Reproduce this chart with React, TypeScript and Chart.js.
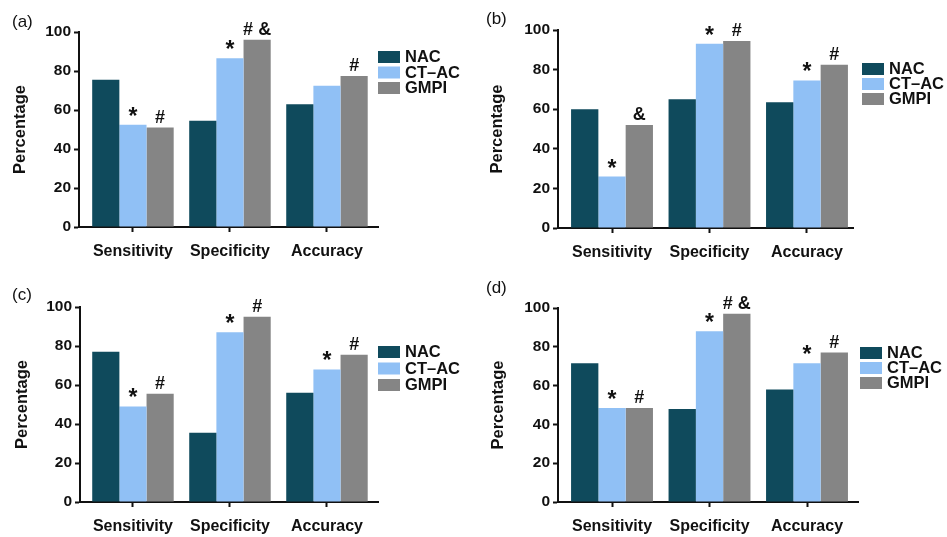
import React, { useEffect, useRef } from 'react';
import { Chart, registerables } from 'chart.js';

Chart.register(...registerables);
Chart.defaults.font.family = '"Liberation Sans", Arial, sans-serif';

// ---------- data ----------
const categories = ['Sensitivity', 'Specificity', 'Accuracy'];
const seriesNames = ['NAC', 'CT–AC', 'GMPI'];
const seriesColors = ['#0f4a5c', '#90c0f5', '#858585'];
const yTickStep = 20;
const yMin = 0;
const yMax = 100;
const yTitle = 'Percentage';
const panelLabels = ['(a)', '(b)', '(c)', '(d)'];

const nacA = [75.5, 54.5, 63];
const ctacA = [52.5, 86.5, 72.5];
const gmpiA = [51, 96, 77.5];

const nacB = [60, 65, 63.5];
const ctacB = [26, 93, 74.5];
const gmpiB = [52, 94.5, 82.5];

const nacC = [77, 35.5, 56];
const ctacC = [49, 87, 68];
const gmpiC = [55.5, 95, 75.5];

const nacD = [71.5, 48, 58];
const ctacD = [48.5, 88, 71.5];
const gmpiD = [48.5, 97, 77];

// significance marks above bars (per series, per category)
const marksNacA = ['', '', ''];
const marksCtacA = ['*', '*', ''];
const marksGmpiA = ['#', '# &', '#'];
const marksNacB = ['', '', ''];
const marksCtacB = ['*', '*', '*'];
const marksGmpiB = ['&', '#', '#'];
const marksNacC = ['', '', ''];
const marksCtacC = ['*', '*', '*'];
const marksGmpiC = ['#', '#', '#'];
const marksNacD = ['', '', ''];
const marksCtacD = ['*', '*', '*'];
const marksGmpiD = ['#', '# &', '#'];

const panelValues = [
  [nacA, ctacA, gmpiA],
  [nacB, ctacB, gmpiB],
  [nacC, ctacC, gmpiC],
  [nacD, ctacD, gmpiD],
];
const panelMarks = [
  [marksNacA, marksCtacA, marksGmpiA],
  [marksNacB, marksCtacB, marksGmpiB],
  [marksNacC, marksCtacC, marksGmpiC],
  [marksNacD, marksCtacD, marksGmpiD],
];

// ---------- layout (positions / sizes) ----------
type Layout = {
  left: number; top: number; w: number; h: number;
  axisX: number; plotTop: number; plotBottom: number; plotRight: number;
  xLo: number; xHi: number;
  titleCx: number; legDx: number; legDy: number; legPitch: number;
  labX: number; labY: number;
};
const layouts: Layout[] = [
  { left: 0, top: 0, w: 470, h: 268, axisX: 79, plotTop: 32, plotBottom: 227, plotRight: 378, xLo: -0.556, xHi: 2.526, titleCx: 20, legDx: 0, legDy: 19, legPitch: 15.5, labX: 12, labY: 11.5 },
  { left: 470, top: 0, w: 477, h: 268, axisX: 88, plotTop: 30, plotBottom: 228, plotRight: 383, xLo: -0.554, xHi: 2.472, titleCx: 27, legDx: 9, legDy: 33, legPitch: 15, labX: 16, labY: 8.5 },
  { left: 0, top: 268, w: 470, h: 269, axisX: 80, plotTop: 39, plotBottom: 234, plotRight: 378, xLo: -0.546, xHi: 2.526, titleCx: 22, legDx: 0, legDy: 39, legPitch: 16.5, labX: 12, labY: 17 },
  { left: 470, top: 268, w: 477, h: 269, axisX: 88, plotTop: 40, plotBottom: 234, plotRight: 388, xLo: -0.554, xHi: 2.523, titleCx: 28, legDx: 2, legDy: 39, legPitch: 15, labX: 16, labY: 10 },
];

const X_AXIS_H = 34;
const TITLE_LINE = 16 * 1.2;
const FONT = '"Liberation Sans", Arial, sans-serif';

function makeLegendPlugin(L: Layout) {
  return {
    id: 'sideLegend',
    afterDraw(chart: any) {
      const { ctx, chartArea } = chart;
      ctx.save();
      ctx.font = `bold 16.5px ${FONT}`;
      ctx.textBaseline = 'middle';
      ctx.textAlign = 'left';
      chart.data.datasets.forEach((ds: any, i: number) => {
        const x = chartArea.right + L.legDx;
        const y = chartArea.top + L.legDy + i * L.legPitch;
        ctx.fillStyle = ds.backgroundColor;
        ctx.fillRect(x, y, 22, 12);
        ctx.fillStyle = '#111';
        ctx.fillText(ds.label, x + 27, y + 6.5);
      });
      ctx.restore();
    },
  };
}

function makeMarksPlugin(marks: string[][]) {
  return {
    id: 'sigMarks',
    afterDatasetsDraw(chart: any) {
      const { ctx } = chart;
      ctx.save();
      ctx.textAlign = 'center';
      ctx.textBaseline = 'alphabetic';
      ctx.fillStyle = '#111';
      marks.forEach((arr, d) => {
        const meta = chart.getDatasetMeta(d);
        arr.forEach((t, i) => {
          if (!t) return;
          const el = meta.data[i];
          if (t === '*') {
            ctx.font = `bold 23px ${FONT}`;
            ctx.fillText(t, el.x, el.y - 1);
          } else {
            ctx.font = `bold 18px ${FONT}`;
            ctx.fillText(t, el.x, el.y - 5);
          }
        });
      });
      ctx.restore();
    },
  };
}

function Panel({ idx }: { idx: number }) {
  const ref = useRef<HTMLCanvasElement | null>(null);
  const L = layouts[idx];
  useEffect(() => {
    if (!ref.current) return;
    const values = panelValues[idx];
    const padLeft = L.titleCx - TITLE_LINE / 2;
    const chart = new Chart(ref.current, {
      type: 'bar',
      data: {
        datasets: values.map((v, i) => ({
          label: seriesNames[i],
          data: v.map((y, c) => ({ x: c, y })),
          backgroundColor: seriesColors[i],
          borderWidth: 0,
          categoryPercentage: 0.84,
          barPercentage: 1,
        })),
      },
      options: {
        animation: false,
        responsive: false,
        events: [],
        layout: {
          padding: {
            left: padLeft,
            top: L.plotTop,
            right: L.w - L.plotRight,
            bottom: L.h - L.plotBottom - X_AXIS_H,
          },
        },
        plugins: {
          legend: { display: false },
          tooltip: { enabled: false },
        },
        scales: {
          x: {
            type: 'linear',
            min: L.xLo,
            max: L.xHi,
            offset: false,
            afterBuildTicks: (s: any) => {
              s.ticks = categories.map((_, c) => ({ value: c }));
            },
            grid: {
              display: true,
              drawOnChartArea: false,
              drawTicks: true,
              offset: false,
              tickLength: 5,
              tickColor: '#111',
              tickWidth: 2,
            },
            border: { display: true, color: '#111', width: 2 },
            ticks: {
              padding: 10,
              color: '#111',
              font: { size: 16, weight: 'bold' },
              maxRotation: 0,
              autoSkip: false,
              callback: (v: any) => categories[v] ?? '',
            },
            afterFit: (s: any) => { s.height = X_AXIS_H; },
          },
          y: {
            min: yMin,
            max: yMax,
            grid: {
              display: true,
              drawOnChartArea: false,
              drawTicks: true,
              tickLength: 5,
              tickColor: '#111',
              tickWidth: 2,
            },
            border: { display: true, color: '#111', width: 2 },
            ticks: {
              stepSize: yTickStep,
              padding: 3,
              color: '#111',
              font: { size: 15.5, weight: 'bold' },
            },
            title: {
              display: true,
              text: yTitle,
              color: '#111',
              padding: 0,
              font: { size: 16.5, weight: 'bold', lineHeight: 1.2 },
            },
            afterFit: (s: any) => { s.width = L.axisX - padLeft; },
          },
        },
      } as any,
      plugins: [makeLegendPlugin(L), makeMarksPlugin(panelMarks[idx])],
    });
    return () => chart.destroy();
  }, [idx]);
  return (
    <>
      <canvas
        ref={ref}
        width={L.w}
        height={L.h}
        style={{ position: 'absolute', left: L.left, top: L.top, width: L.w, height: L.h }}
      />
      <div
        style={{
          position: 'absolute',
          left: L.left + L.labX,
          top: L.top + L.labY,
          fontFamily: FONT,
          fontSize: 17,
          lineHeight: '20px',
          color: '#111',
        }}
      >
        {panelLabels[idx]}
      </div>
    </>
  );
}

export default function App() {
  return (
    <div
      style={{
        position: 'absolute',
        left: 0,
        top: 0,
        width: 947,
        height: 537,
        background: '#fff',
        overflow: 'hidden',
      }}
    >
      {[0, 1, 2, 3].map((i) => (
        <Panel key={i} idx={i} />
      ))}
    </div>
  );
}
